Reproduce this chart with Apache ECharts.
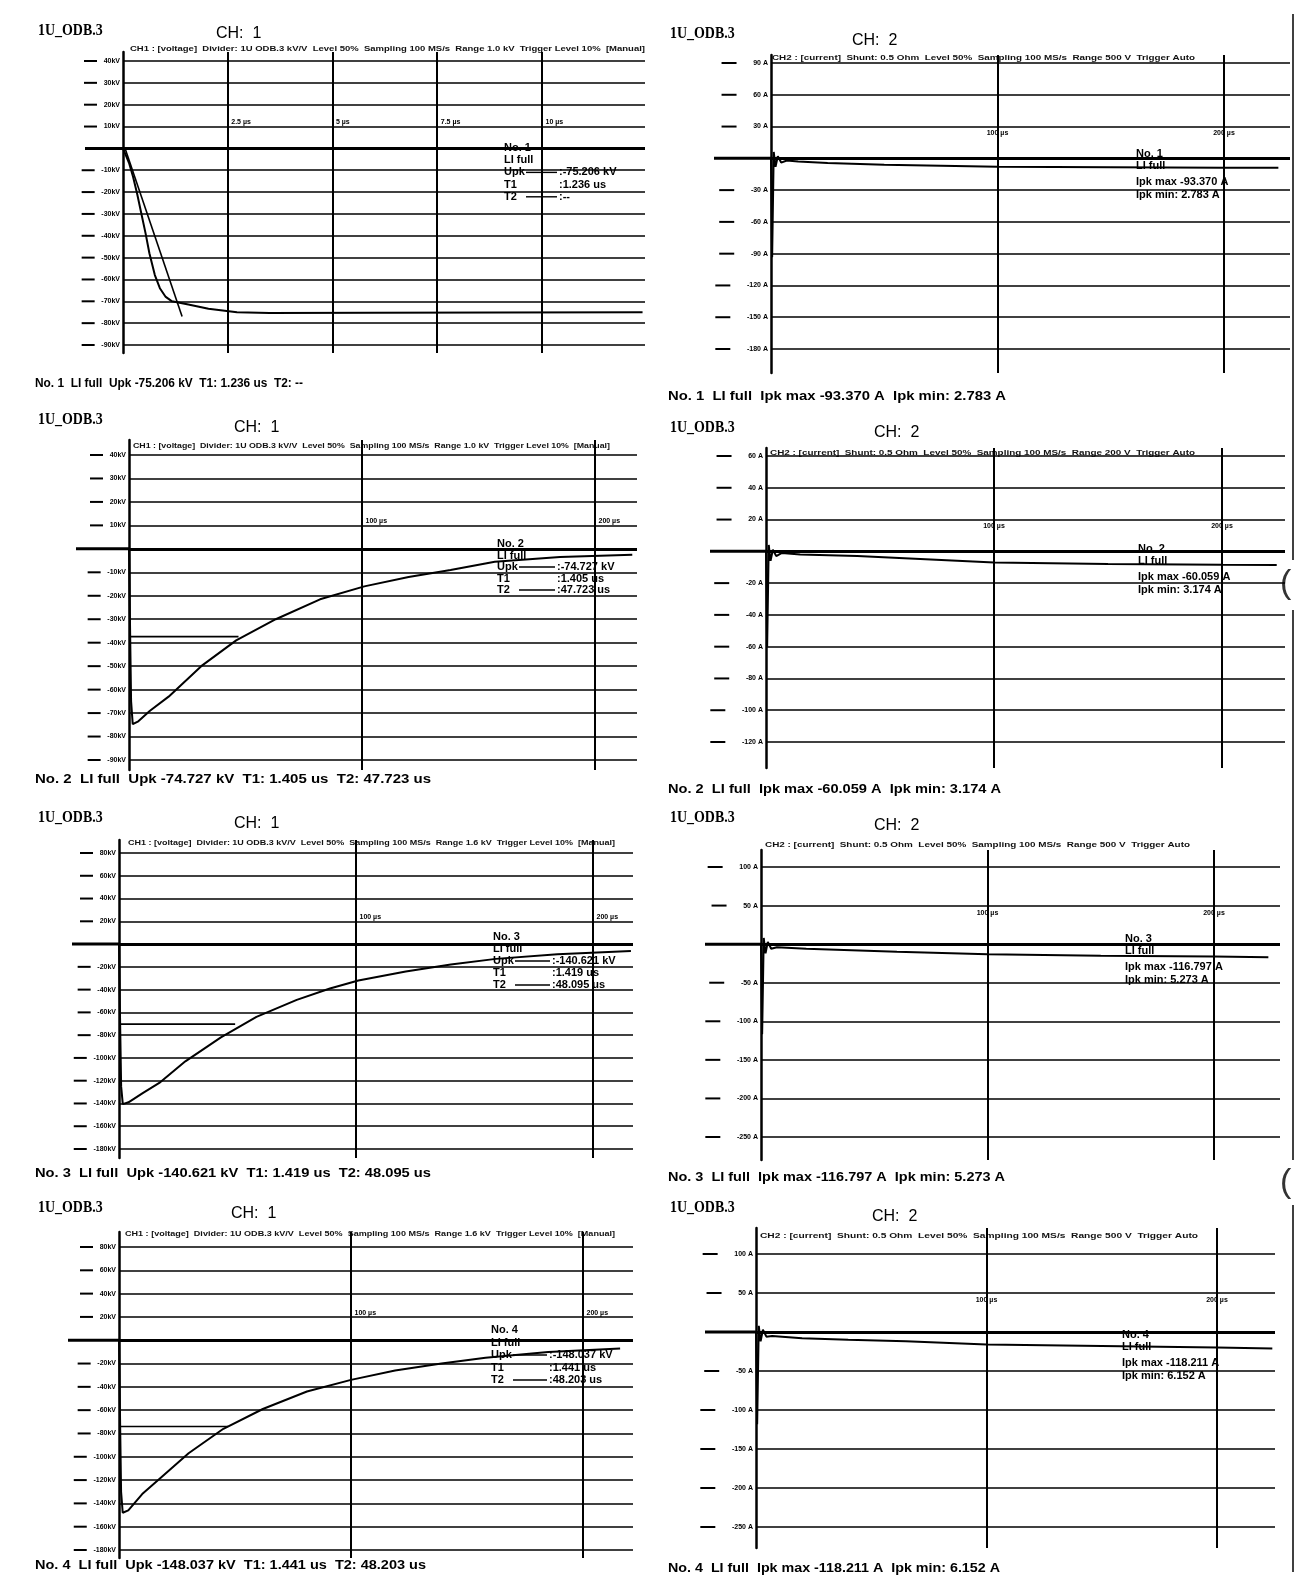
<!DOCTYPE html>
<html>
<head>
<meta charset="utf-8">
<title>1U_ODB.3 lightning impulse records</title>
<script src="https://cdn.jsdelivr.net/npm/echarts@6.0.0/dist/echarts.min.js"></script>
<style>
html,body{margin:0;padding:0;background:#fff;}
#chart{width:1296px;height:1580px;}
</style>
</head>
<body>
<div id="chart"></div>
<script>
// ================= DATA =================
const objectName = '1U_ODB.3';
const channelLabels = ['CH:  1','CH:  2','CH:  1','CH:  2','CH:  1','CH:  2','CH:  1','CH:  2'];
const headerTexts = [
  'CH1 : [voltage]  Divider: 1U ODB.3 kV/V  Level 50%  Sampling 100 MS/s  Range 1.0 kV  Trigger Level 10%  [Manual]',
  'CH2 : [current]  Shunt: 0.5 Ohm  Level 50%  Sampling 100 MS/s  Range 500 V  Trigger Auto',
  'CH1 : [voltage]  Divider: 1U ODB.3 kV/V  Level 50%  Sampling 100 MS/s  Range 1.0 kV  Trigger Level 10%  [Manual]',
  'CH2 : [current]  Shunt: 0.5 Ohm  Level 50%  Sampling 100 MS/s  Range 200 V  Trigger Auto',
  'CH1 : [voltage]  Divider: 1U ODB.3 kV/V  Level 50%  Sampling 100 MS/s  Range 1.6 kV  Trigger Level 10%  [Manual]',
  'CH2 : [current]  Shunt: 0.5 Ohm  Level 50%  Sampling 100 MS/s  Range 500 V  Trigger Auto',
  'CH1 : [voltage]  Divider: 1U ODB.3 kV/V  Level 50%  Sampling 100 MS/s  Range 1.6 kV  Trigger Level 10%  [Manual]',
  'CH2 : [current]  Shunt: 0.5 Ohm  Level 50%  Sampling 100 MS/s  Range 500 V  Trigger Auto'
];
const captionTexts = [
  'No. 1  LI full  Upk -75.206 kV  T1: 1.236 us  T2: --',
  'No. 1  LI full  Ipk max -93.370 A  Ipk min: 2.783 A',
  'No. 2  LI full  Upk -74.727 kV  T1: 1.405 us  T2: 47.723 us',
  'No. 2  LI full  Ipk max -60.059 A  Ipk min: 3.174 A',
  'No. 3  LI full  Upk -140.621 kV  T1: 1.419 us  T2: 48.095 us',
  'No. 3  LI full  Ipk max -116.797 A  Ipk min: 5.273 A',
  'No. 4  LI full  Upk -148.037 kV  T1: 1.441 us  T2: 48.203 us',
  'No. 4  LI full  Ipk max -118.211 A  Ipk min: 6.152 A'
];

// horizontal grid levels (tick values)
const p1Levels = [40,30,20,10,0,-10,-20,-30,-40,-50,-60,-70,-80,-90];
const p2Levels = [90,60,30,0,-30,-60,-90,-120,-150,-180];
const p3Levels = [40,30,20,10,0,-10,-20,-30,-40,-50,-60,-70,-80,-90];
const p4Levels = [60,40,20,0,-20,-40,-60,-80,-100,-120];
const p5Levels = [80,60,40,20,0,-20,-40,-60,-80,-100,-120,-140,-160,-180];
const p6Levels = [100,50,0,-50,-100,-150,-200,-250];
const p7Levels = [80,60,40,20,0,-20,-40,-60,-80,-100,-120,-140,-160,-180];
const p8Levels = [100,50,0,-50,-100,-150,-200,-250];

// time cursors (µs) and their labels
const p1Cursors = [2.5,5,7.5,10];
const p1CursorLabelTimes = [2.5,5,7.5,10,12.5];
const p1CursorLabels = ['2.5 µs','5 µs','7.5 µs','10 µs','12.5 µs'];
const tailCursors = [100,200];
const tailCursorLabelTimes = [100,200];
const tailCursorLabels = ['100 µs','200 µs'];

// ---- traces: [time µs, value] ----
// No.1 voltage front (kV)
const p1Front = [[0,0],[0.15,-7],[0.24,-13],[0.34,-21],[0.44,-30],[0.54,-39],[0.63,-48],[0.76,-58],[0.88,-64],[1.02,-68],[1.17,-70],[1.56,-71.5],[2.04,-73.4],[2.72,-75],[3.5,-75.3],[6,-75.2],[9,-75.1],[12.4,-75]];
const p1FrontLine = [[0.05,0],[1.41,-77]];
// No.1 current (A)
const p2Current = [[0,0],[0.5,-93.37],[1.2,6],[2,-8],[3,2],[4.5,-4],[7,-2],[12,-3],[25,-4.5],[50,-6],[75,-7],[100,-8],[150,-8.5],[200,-9],[224,-9]];
// No.2 voltage tail (kV)
const p3Tail = [[0,0],[0.4,-30],[0.9,-65],[1.6,-74.7],[4,-73.5],[9,-69],[17,-63],[31,-50],[46,-39],[63,-30],[82,-21.5],[101,-16],[120,-12],[138,-9],[157,-5.5],[185,-3.5],[216,-2.5]];
const p3HalfLevel = [[0,-37.4],[47,-37.4]];
// No.2 current (A)
const p4Current = [[0,0],[0.5,-60.06],[1.2,4],[2,-6],[3,1],[4.5,-3],[7,-1],[15,-2],[40,-3],[70,-5],[100,-7],[150,-8],[200,-8.5],[224,-8.6]];
// No.3 voltage tail (kV)
const p5Tail = [[0,0],[0.4,-60],[0.9,-125],[1.6,-140.6],[4,-139],[10,-131],[17,-122],[28,-103],[43,-82],[58,-64],[75,-49],[89,-39],[101,-32],[121,-24],[140,-18],[159,-13],[185,-9],[216,-6]];
const p5HalfLevel = [[0,-70.3],[49,-70.3]];
// No.3 current (A)
const p6Current = [[0,0],[0.5,-116.8],[1.2,8],[2,-12],[3,3],[4.5,-6],[7,-4],[20,-6],[40,-8],[60,-10],[100,-13],[150,-15],[200,-16],[224,-17]];
// No.4 voltage tail (kV)
const p7Tail = [[0,0],[0.4,-60],[0.9,-130],[1.6,-148],[4,-146],[10,-132],[18,-118],[30,-97],[45,-76],[62,-59],[81,-44],[100,-34],[119,-26],[139,-20],[158,-15],[185,-10],[216,-7]];
const p7HalfLevel = [[0,-74],[47,-74]];
// No.4 current (A)
const p8Current = [[0,0],[0.5,-118.2],[1.2,8],[2,-12],[3,3],[4.5,-6],[7,-5],[20,-8],[40,-10],[65,-12],[100,-16],[150,-18],[200,-20],[224,-21]];

// readouts
const p1Readout = ['No. 1','LI full',['Upk',':-75.206 kV'],['T1',':1.236 us'],['T2',':--']];
const p2Readout = ['No. 1','LI full','Ipk max -93.370 A','Ipk min: 2.783 A'];
const p3Readout = ['No. 2','LI full',['Upk',':-74.727 kV'],['T1',':1.405 us'],['T2',':47.723 us']];
const p4Readout = ['No. 2','LI full','Ipk max -60.059 A','Ipk min: 3.174 A'];
const p5Readout = ['No. 3','LI full',['Upk',':-140.621 kV'],['T1',':1.419 us'],['T2',':48.095 us']];
const p6Readout = ['No. 3','LI full','Ipk max -116.797 A','Ipk min: 5.273 A'];
const p7Readout = ['No. 4','LI full',['Upk',':-148.037 kV'],['T1',':1.441 us'],['T2',':48.203 us']];
const p8Readout = ['No. 4','LI full','Ipk max -118.211 A','Ipk min: 6.152 A'];

// ================= PANEL ASSEMBLY =================
const panels = [
  {unit:'kV', levels:p1Levels, traces:[p1Front,p1FrontLine], cursors:p1Cursors, labelTimes:p1CursorLabelTimes, labels:p1CursorLabels, labelLevel:10, readout:p1Readout},
  {unit:'A',  levels:p2Levels, traces:[p2Current], cursors:tailCursors, labelTimes:tailCursorLabelTimes, labels:tailCursorLabels, labelLevel:30, readout:p2Readout},
  {unit:'kV', levels:p3Levels, traces:[p3Tail,p3HalfLevel], cursors:tailCursors, labelTimes:tailCursorLabelTimes, labels:tailCursorLabels, labelLevel:10, readout:p3Readout},
  {unit:'A',  levels:p4Levels, traces:[p4Current], cursors:tailCursors, labelTimes:tailCursorLabelTimes, labels:tailCursorLabels, labelLevel:20, readout:p4Readout},
  {unit:'kV', levels:p5Levels, traces:[p5Tail,p5HalfLevel], cursors:tailCursors, labelTimes:tailCursorLabelTimes, labels:tailCursorLabels, labelLevel:20, readout:p5Readout},
  {unit:'A',  levels:p6Levels, traces:[p6Current], cursors:tailCursors, labelTimes:tailCursorLabelTimes, labels:tailCursorLabels, labelLevel:50, readout:p6Readout},
  {unit:'kV', levels:p7Levels, traces:[p7Tail,p7HalfLevel], cursors:tailCursors, labelTimes:tailCursorLabelTimes, labels:tailCursorLabels, labelLevel:20, readout:p7Readout},
  {unit:'A',  levels:p8Levels, traces:[p8Current], cursors:tailCursors, labelTimes:tailCursorLabelTimes, labels:tailCursorLabels, labelLevel:50, readout:p8Readout}
];

// ================= LAYOUT (pixels) =================
const layouts = [
  {axisX:123, right:645,  lineTop:61,   lineBot:345,  overTop:52,   overBot:353,  tRef:10,  xRef:542,  zeroFrom:85,
   title:[38,31],   ch:[216,34],   header:[130,645,49],   caption:[35,303,383],   ro:{x:504,y:148,vx:559,dy:12.2}},
  {axisX:771, right:1290, lineTop:63,   lineBot:349,  overTop:55,   overBot:373,  tRef:200, xRef:1224, zeroFrom:714,
   title:[670,34],  ch:[852,41],   header:[772,1195,58],  caption:[668,1006,396],  ro:{x:1136,y:154}},
  {axisX:129, right:637,  lineTop:455,  lineBot:760,  overTop:440,  overBot:770,  tRef:200, xRef:595,  zeroFrom:76,
   title:[38,420],  ch:[234,428],  header:[133,610,446],  caption:[35,431,779],   ro:{x:497,y:544,vx:557,dy:11.5}},
  {axisX:766, right:1285, lineTop:456,  lineBot:742,  overTop:448,  overBot:768,  tRef:200, xRef:1222, zeroFrom:710,
   title:[670,428], ch:[874,433],  header:[770,1195,453],  caption:[668,1001,789],  ro:{x:1138,y:549}},
  {axisX:119, right:633,  lineTop:853,  lineBot:1149, overTop:840,  overBot:1158, tRef:200, xRef:593,  zeroFrom:72,
   title:[38,818],  ch:[234,824],  header:[128,615,843],  caption:[35,431,1173],  ro:{x:493,y:937,vx:552,dy:12}},
  {axisX:761, right:1280, lineTop:867,  lineBot:1137, overTop:850,  overBot:1160, tRef:200, xRef:1214, zeroFrom:705,
   title:[670,818], ch:[874,826],  header:[765,1190,845],  caption:[668,1005,1177], ro:{x:1125,y:939}},
  {axisX:119, right:633,  lineTop:1247, lineBot:1550, overTop:1232, overBot:1558, tRef:200, xRef:583,  zeroFrom:68,
   title:[38,1208], ch:[231,1214], header:[125,615,1234], caption:[35,426,1565],  ro:{x:491,y:1330,vx:549,dy:12.5}},
  {axisX:756, right:1275, lineTop:1254, lineBot:1527, overTop:1228, overBot:1548, tRef:200, xRef:1217, zeroFrom:705,
   title:[670,1208], ch:[872,1217], header:[760,1198,1236], caption:[668,1000,1568], ro:{x:1122,y:1335}}
];

const SANS = '"Liberation Sans", Arial, sans-serif';
const fmt = (v, unit) => unit === 'kV' ? (v + 'kV') : (v + ' A');
const measureCtx = document.createElement('canvas').getContext('2d');
function fitScale(text, font, target) {
  measureCtx.font = font;
  const w = measureCtx.measureText(text).width;
  return w > 0 ? target / w : 1;
}

const grids = [], xAxes = [], yAxes = [], series = [], graphics = [];

panels.forEach((P, i) => {
  const L = layouts[i];
  const vTop = P.levels[0], vBot = P.levels[P.levels.length - 1];
  const vpp = (vTop - vBot) / (L.lineBot - L.lineTop);
  const yMax = vTop + (L.lineTop - L.overTop) * vpp;
  const yMin = vBot - (L.overBot - L.lineBot) * vpp;
  const xMax = (L.right - L.axisX) * L.tRef / (L.xRef - L.axisX);

  grids.push({left: L.axisX, top: L.overTop, width: L.right - L.axisX, height: L.overBot - L.overTop});
  xAxes.push({gridIndex: i, type: 'value', min: 0, max: xMax, show: false});
  yAxes.push({gridIndex: i, type: 'value', min: yMin, max: yMax,
    axisLine: {show: true, onZero: false, lineStyle: {color: '#000', width: 2.5}},
    axisTick: {show: false}, axisLabel: {show: false}, splitLine: {show: false}});

  const zeroW = L.axisX - L.zeroFrom;
  const isV = P.unit === 'kV';
  const hLines = P.levels.map(v => ({
    yAxis: v,
    lineStyle: {color: '#000', width: v === 0 ? 2.8 : 1.6, type: 'solid'},
    label: v === 0
      ? {show: true, position: 'start', distance: 0, formatter: '{z| }',
         rich: {z: {width: zeroW, height: 3, backgroundColor: '#000'}}}
      : {show: true, position: 'start', distance: 3, color: '#000',
         formatter: '{d| }' + (isV ? '  ' : '     ') + '{t|' + fmt(v, P.unit) + '}',
         rich: {d: {width: isV ? 13 : 15, height: 2, backgroundColor: '#000'},
                t: {fontSize: 7, fontWeight: 'bold', color: '#000', fontFamily: SANS}}}
  }));
  const vLines = P.cursors.map(t => ({xAxis: t, lineStyle: {color: '#000', width: 2, type: 'solid'}, label: {show: false}}));

  P.traces.forEach((tr, k) => {
    const s = {
      type: 'line', xAxisIndex: i, yAxisIndex: i, data: tr, symbol: 'none',
      lineStyle: {color: '#000', width: k === 0 ? 2 : 1.6}, silent: true, animation: false, z: 4 + k
    };
    if (k === 0) {
      s.markLine = {silent: true, symbol: ['none', 'none'], animation: false, z: 2, data: hLines.concat(vLines)};
      s.markPoint = {
        silent: true, animation: false, symbol: 'circle', symbolSize: 1,
        itemStyle: {color: 'rgba(0,0,0,0)'},
        label: {show: true, formatter: '{b}', color: '#000', fontSize: 7, fontWeight: 'bold', fontFamily: SANS,
                position: isV ? 'right' : 'bottom', distance: 3, offset: isV ? [0, -4] : [0, 0]},
        data: P.labelTimes.map((t, j) => ({name: P.labels[j], coord: [t, P.labelLevel]}))
      };
    }
    series.push(s);
  });

  // ---- texts ----
  graphics.push({type: 'text', x: L.title[0], y: L.title[1], scaleX: 0.82, silent: true,
    style: {text: objectName, font: 'bold 17px "Liberation Serif", serif', fill: '#000', verticalAlign: 'middle'}});
  graphics.push({type: 'text', x: L.ch[0], y: L.ch[1], silent: true,
    style: {text: channelLabels[i], font: '16px ' + SANS, fill: '#000', verticalAlign: 'middle'}});
  const hFont = 'bold 7px ' + SANS;
  graphics.push({type: 'text', x: L.header[0], y: L.header[2], silent: true,
    scaleX: fitScale(headerTexts[i], hFont, L.header[1] - L.header[0]),
    style: {text: headerTexts[i], font: hFont, fill: '#111', verticalAlign: 'middle'}});
  const cFont = 'bold 13px ' + SANS;
  graphics.push({type: 'text', x: L.caption[0], y: L.caption[2], silent: true,
    scaleX: fitScale(captionTexts[i], cFont, L.caption[1] - L.caption[0]),
    style: {text: captionTexts[i], font: cFont, fill: '#000', verticalAlign: 'middle'}});

  const ro = L.ro;
  if (isV) {
    P.readout.forEach((row, r) => {
      const y = ro.y + r * ro.dy;
      if (typeof row === 'string') {
        graphics.push({type: 'text', x: ro.x, y, silent: true,
          style: {text: row, font: 'bold 11px ' + SANS, fill: '#000', verticalAlign: 'middle'}});
      } else {
        const lead = (row[0] === 'T1') ? 'rgba(0,0,0,0)' : '#000';
        graphics.push({type: 'text', x: ro.x, y, silent: true,
          style: {text: '{k|' + row[0] + '}{l| }{v|' + row[1] + '}', verticalAlign: 'middle', fill: '#000',
            rich: {k: {width: 22, font: 'bold 11px ' + SANS, fill: '#000'},
                   l: {width: ro.vx - ro.x - 24, height: 1.4, backgroundColor: lead, verticalAlign: 'middle'},
                   v: {font: 'bold 11px ' + SANS, fill: '#000', padding: [0, 0, 0, 2]}}}});
      }
    });
  } else {
    const offs = [0, 12, 28, 41];
    P.readout.forEach((row, r) => {
      graphics.push({type: 'text', x: ro.x, y: ro.y + offs[r], silent: true,
        style: {text: row, font: 'bold 11px ' + SANS, fill: '#000', verticalAlign: 'middle'}});
    });
  }
});

// scan border at right page edge
graphics.push({type: 'line', silent: true, shape: {x1: 1293, y1: 14, x2: 1293, y2: 560}, style: {stroke: '#000', lineWidth: 1.5}});
graphics.push({type: 'line', silent: true, shape: {x1: 1293, y1: 610, x2: 1293, y2: 1160}, style: {stroke: '#000', lineWidth: 1.5}});
graphics.push({type: 'line', silent: true, shape: {x1: 1293, y1: 1205, x2: 1293, y2: 1572}, style: {stroke: '#000', lineWidth: 1.5}});
graphics.push({type: 'text', x: 1280, y: 584, silent: true, style: {text: '(', font: '34px ' + SANS, fill: '#333', verticalAlign: 'middle'}});
graphics.push({type: 'text', x: 1280, y: 1183, silent: true, style: {text: '(', font: '34px ' + SANS, fill: '#333', verticalAlign: 'middle'}});

const chart = echarts.init(document.getElementById('chart'), null, {renderer: 'canvas'});
chart.setOption({
  backgroundColor: '#fff',
  animation: false,
  grid: grids,
  xAxis: xAxes,
  yAxis: yAxes,
  series: series,
  graphic: graphics
});
</script>
</body>
</html>
